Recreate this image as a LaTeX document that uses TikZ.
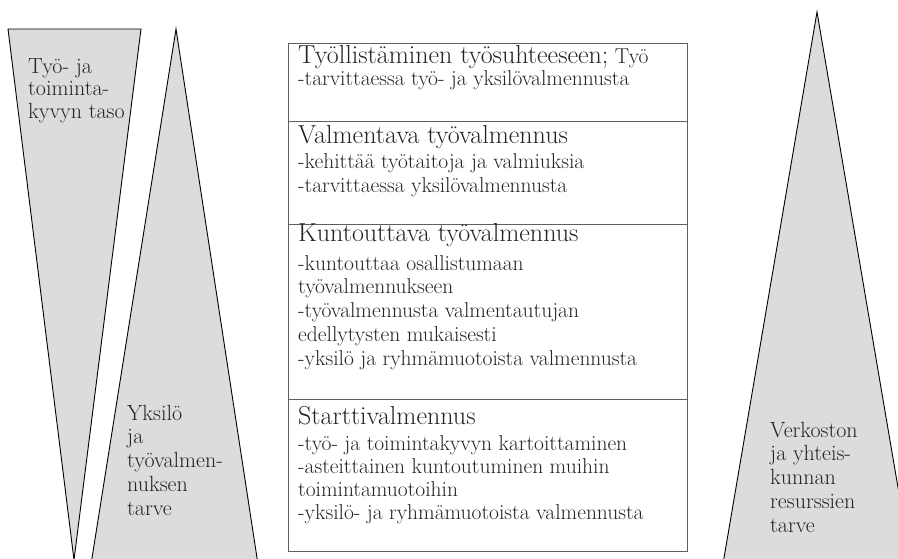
\documentclass[tikz,border=0pt]{standalone}
\usepackage{tikz}
\usetikzlibrary{positioning}
\definecolor{wedgegray}{RGB}{220,220,220}
\definecolor{stageline}{RGB}{95,95,95}
\definecolor{inktext}{RGB}{35,35,35}
\newcommand{\bodyfont}{\fontsize{21.5}{23.7}\selectfont}
\newcommand{\headfont}{\fontsize{26}{30}\selectfont}

\begin{document}
\begin{tikzpicture}[x=1pt, y=-1pt,
  wedge/.style={fill=wedgegray, draw=black, line width=0.9pt},
  stagebox/.style={draw=stageline, line width=0.9pt},
  head/.style={anchor=base west, inner sep=0pt, text=inktext, font=\headfont},
  % multi-line nodes: base = baseline of the last line
  body/.style={anchor=base west, inner sep=0pt, align=left, text=inktext, font=\bodyfont},
  side/.style={body, font=\fontsize{22}{23.7}\selectfont},
]
  \useasboundingbox (0,0) rectangle (898,558);
  \clip (0,0) rectangle (898,558);

  % wedges
  \draw[wedge] (8,29) -- (141,29) -- (74,560) -- cycle;
  \draw[wedge] (176,29) -- (258.1,565) -- (90.9,565) -- cycle;
  \draw[wedge] (817,12) -- (911.2,565) -- (722.8,565) -- cycle;

  % stages
  \draw[stagebox] (288,43) rectangle (687,121);
  \draw[stagebox] (288,121) rectangle (687,224);
  \draw[stagebox] (288,224) rectangle (687,399);
  \draw[stagebox] (288,399) rectangle (687,551);

  \node[side, font=\fontsize{22}{22.5}\selectfont] (taso) at (28,118) {Työ- ja\\toiminta-\\kyvyn taso};
  \node[side] (tarve) at (127,515) {Yksilö\\ja\\työvalmen-\\nuksen\\tarve};
  \node[side] (verkosto) at (770,532) {Verkoston\\ja yhteis-\\kunnan\\resurssien\\tarve};

  \node[head] (tyo) at (298,63.5) {Työllistäminen työsuhteeseen;{\bodyfont{} Työ}};
  \node[body] (tyotext) at (298,85.5) {-tarvittaessa työ- ja yksilövalmennusta};

  \node[head] (valm) at (298,143) {Valmentava työvalmennus};
  \node[body] (valmtext) at (298,192) {-kehittää työtaitoja ja valmiuksia\\-tarvittaessa yksilövalmennusta};

  \node[head] (kunt) at (298,241) {Kuntouttava työvalmennus};
  \node[body] (kunttext) at (298,365) {-kuntouttaa osallistumaan\\työvalmennukseen\\-työvalmennusta valmentautujan\\edellytysten mukaisesti\\-yksilö ja ryhmämuotoista valmennusta};

  \node[head] (startti) at (298,424) {Starttivalmennus};
  \node[body, font=\fontsize{21.5}{23}\selectfont] (starttitext) at (298,519) {-työ- ja toimintakyvyn kartoittaminen\\-asteittainen kuntoutuminen muihin\\toimintamuotoihin\\-yksilö- ja ryhmämuotoista valmennusta};
\end{tikzpicture}
\end{document}
